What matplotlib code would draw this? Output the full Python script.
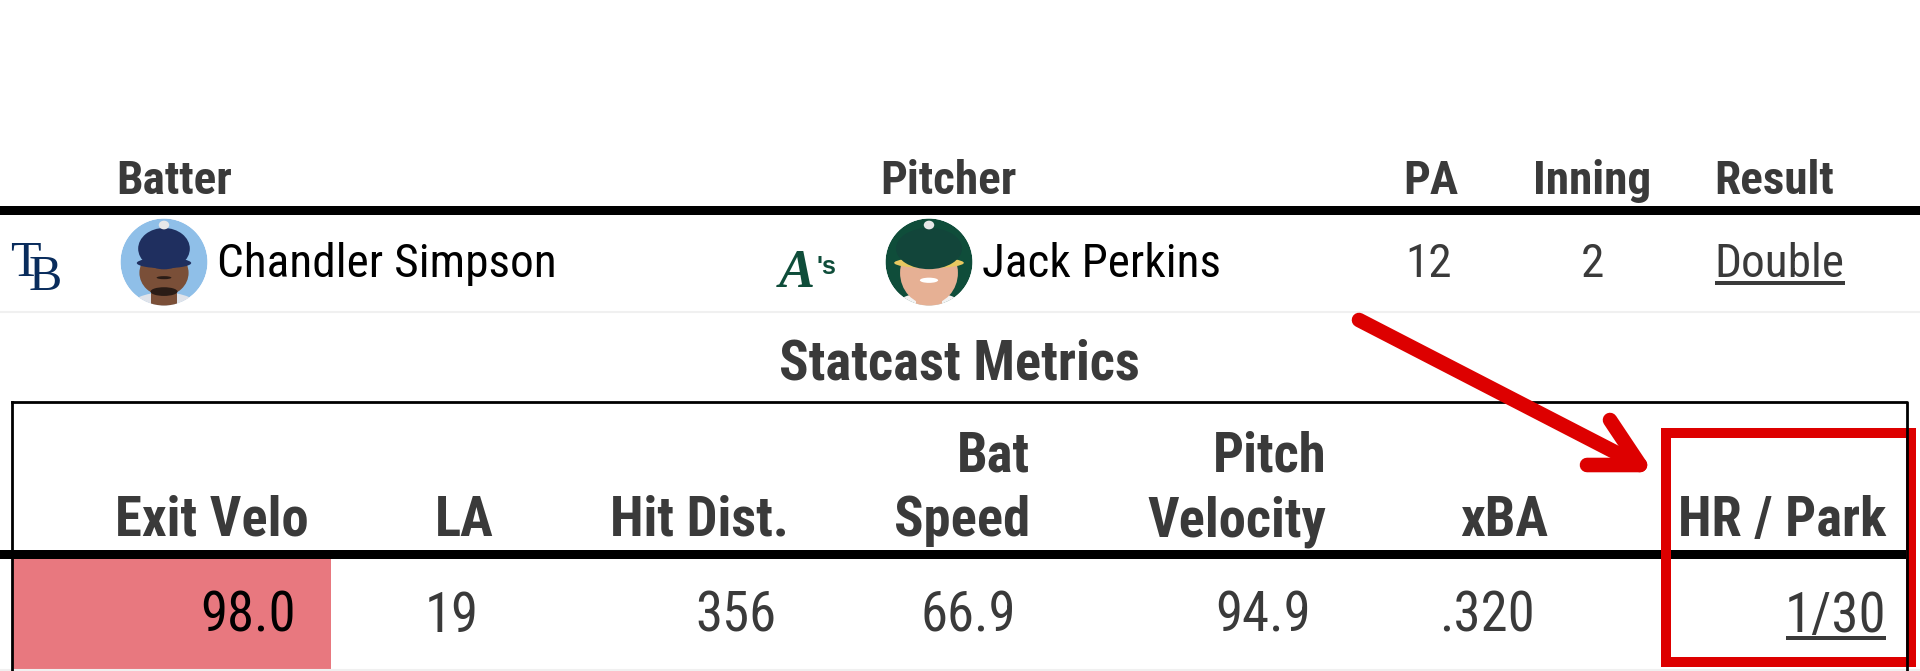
import matplotlib
matplotlib.use('Agg')
import matplotlib.pyplot as plt
from matplotlib.patches import Circle, Ellipse, Rectangle

# first table
top_headers = ['Batter', 'Pitcher', 'PA', 'Inning', 'Result']
batter = 'Chandler Simpson'
pitcher = 'Jack Perkins'
pa = '12'
inning = '2'
result = 'Double'

# statcast table
metric_headers = ['Exit Velo', 'LA', 'Hit Dist.', 'Bat\nSpeed', 'Pitch\nVelocity', 'xBA', 'HR / Park']
metric_values = ['98.0', '19', '356', '66.9', '94.9', '.320', '1/30']

NARROW = ['Roboto Condensed', 'Roboto', 'DejaVu Sans']
DARK = '#3a3a3a'
RED = '#dd0000'

fig = plt.figure(figsize=(19.2, 6.71), dpi=100)
ax = fig.add_axes([0, 0, 1, 1])
ax.set_xlim(0, 1920)
ax.set_ylim(671, 0)
ax.axis('off')


def label(x, y, s, size=34, bold=False, color=DARK, ha='left'):
    return ax.text(x, y, s, fontsize=size, fontweight='bold' if bold else 'normal',
                   color=color, ha=ha, va='baseline', family=NARROW)


def headshot(cx, cy, r, bg, cap, skin, shirt, face_w, face_h, cap_y, cap_w, brim, beard=None):
    clip = Circle((cx, cy), r, transform=ax.transData)
    parts = [
        Circle((cx, cy), r, fc=bg, ec='none'),
        Ellipse((cx, cy + r*1.05), r*1.6, r*0.7, fc=shirt, ec='none'),
        Rectangle((cx - r*0.3, cy + r*0.4), r*0.6, r*0.6, fc=skin, ec='none'),
        Ellipse((cx, cy + r*0.25), r*face_w, r*face_h, fc=skin, ec='none'),
    ]
    if beard:
        parts.append(Ellipse((cx, cy + r*0.68), r*0.62, r*0.2, fc=beard, ec='none'))
        parts.append(Ellipse((cx, cy + r*0.36), r*0.34, r*0.07, fc=beard, ec='none'))
    else:
        parts.append(Ellipse((cx, cy + r*0.42), r*0.42, r*0.12, fc='white', ec='none'))
    parts += [
        Ellipse((cx - r*0.22, cy + r*0.05), r*0.16, r*0.06, fc='#2a1c16', ec='none'),
        Ellipse((cx + r*0.22, cy + r*0.05), r*0.16, r*0.06, fc='#2a1c16', ec='none'),
        Ellipse((cx, cy + cap_y + r*0.03), r*cap_w, r*0.24, fc=brim, ec='none'),
        Ellipse((cx, cy + cap_y - r*0.3), r*cap_w*0.95, r*0.95, fc=cap, ec='none'),
        Ellipse((cx, cy - r*0.85), r*0.24, r*0.2, fc='#e8e8e8', ec='none'),
    ]
    for p in parts:
        ax.add_patch(p)
        p.set_clip_path(clip)


# rules
ax.add_patch(Rectangle((0, 206), 1920, 9, fc='black', ec='none'))
ax.plot([0, 1920], [312, 312], color='#f0f0f0', lw=1.5)
ax.plot([0, 1920], [670, 670], color='#f0f0f0', lw=1.5)

# header row
for x, h in zip([116, 880, 1403, 1533, 1714], top_headers):
    label(x, 194, h, bold=True)

# player row
ax.text(10, 276, 'T', fontsize=36, color='#092c5c', family='Liberation Serif')
ax.text(29, 290, 'B', fontsize=36, color='#092c5c', family='Liberation Serif')
ax.text(779, 287, 'A', fontsize=39, color='#0f4d3a', family='Liberation Serif',
        fontweight='bold', fontstyle='italic')
ax.text(817, 274, "'s", fontsize=18, color='#0f4d3a', family='Liberation Sans', fontweight='bold')
headshot(164, 262, 43.5, '#8fbfe8', '#1f2f5f', '#7a4f38', '#dfe3ea', 1.13, 1.05, -0.28, 1.25,
         '#1f2f5f', beard='#2a1c16')
headshot(929, 262, 43.5, '#0f4d3a', '#12453a', '#e6b094', '#f2f2f2', 1.33, 1.45, -0.46, 1.6,
         '#e8c860')
label(217, 277, batter, color='black')
label(982, 277, pitcher, color='black')
label(1429, 277, pa, ha='center')
label(1592, 277, inning, ha='center')
label(1714, 277, result)
ax.add_patch(Rectangle((1715, 281), 130, 3.5, fc=DARK, ec='none'))

label(959, 379, 'Statcast Metrics', size=39.4, bold=True, ha='center')

# statcast box
ax.plot([11.5, 1907, 1907], [402, 402, 671], color='black', lw=2)
ax.plot([11.5, 11.5], [402, 671], color='black', lw=2)
ax.add_patch(Rectangle((12.5, 559), 318, 110, fc='#e8787f', ec='none'))
ax.add_patch(Rectangle((0, 550), 1907, 9, fc='black', ec='none'))

# metric columns
head_x = [309, 464.5, 789, 1030, 1326, 1504, 1886]
head_ha = ['right', 'center', 'right', 'right', 'right', 'center', 'right']
val_x = [295.5, 452, 777, 1015.5, 1311, 1487, 1886]
val_ha = ['right', 'center', 'right', 'right', 'right', 'center', 'right']
for x, ha, h in zip(head_x, head_ha, metric_headers):
    lines = h.split('\n')
    for i, line in enumerate(reversed(lines)):
        label(x, 536 - 65*i, line, size=39.3, bold=True, ha=ha)
for x, ha, v in zip(val_x, val_ha, metric_values):
    label(x, 632, v, size=39.4, ha=ha, color='black' if v == '98.0' else DARK)
ax.add_patch(Rectangle((1786, 636), 100, 4, fc=DARK, ec='none'))

# red highlight
ax.add_patch(Rectangle((1666, 433), 245, 229, fc='none', ec=RED, lw=7.2, joinstyle='miter'))
ax.plot([1359, 1640], [320, 465], color=RED, lw=10.5, solid_capstyle='round')
ax.plot([1610, 1640, 1587], [420, 465, 465], color=RED, lw=10.5,
        solid_capstyle='round', solid_joinstyle='round')

fig.savefig('out.png', dpi=100)
